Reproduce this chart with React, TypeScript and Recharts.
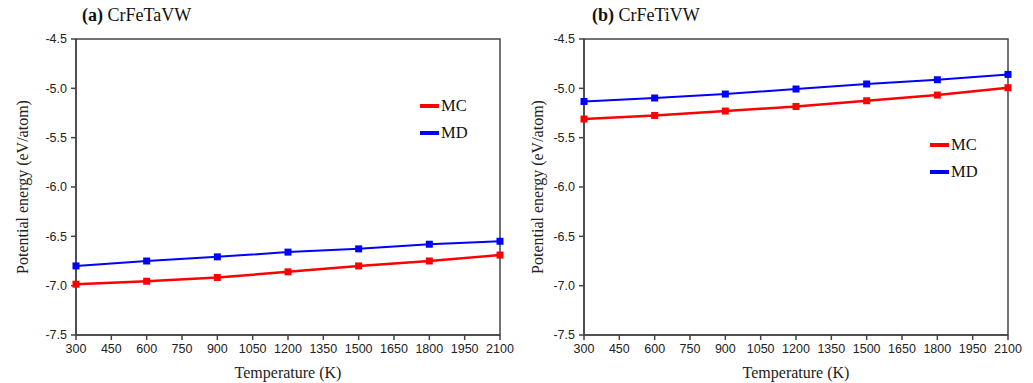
import React from 'react';
import {
  LineChart,
  Line,
  XAxis,
  YAxis,
  ReferenceArea,
} from 'recharts';

// temperatures (K)
const temps = [300, 600, 900, 1200, 1500, 1800, 2100];
const xTicks = [300, 450, 600, 750, 900, 1050, 1200, 1350, 1500, 1650, 1800, 1950, 2100];
const yTicks = [-7.5, -7.0, -6.5, -6.0, -5.5, -5.0, -4.5];

// (a) CrFeTaVW
const mcA = [-6.985, -6.955, -6.917, -6.86, -6.8, -6.75, -6.69];
const mdA = [-6.8, -6.75, -6.708, -6.66, -6.627, -6.58, -6.55];
// (b) CrFeTiVW
const mcB = [-5.311, -5.275, -5.23, -5.184, -5.126, -5.068, -4.994];
const mdB = [-5.133, -5.098, -5.058, -5.007, -4.956, -4.913, -4.859];

const SANS = '"Liberation Sans", Arial, sans-serif';
const SERIF = '"Liberation Serif", "Times New Roman", serif';
const AXIS = '#444';

const SquareDot = (props: any) => {
  const { cx, cy, fill } = props;
  if (cx == null || cy == null) return null;
  return <rect x={cx - 3.5} y={cy - 3.5} width={7} height={7} fill={fill} />;
};

const LegendBox = ({ left, top }: { left: number; top: number }) => (
  <div style={{ position: 'absolute', left, top, fontFamily: SERIF, fontSize: 16.5, color: '#111' }}>
    {[
      { name: 'MC', color: '#ff0000' },
      { name: 'MD', color: '#0000ff' },
    ].map((it) => (
      <div key={it.name} style={{ display: 'flex', alignItems: 'center', height: 27 }}>
        <span style={{ display: 'inline-block', width: 19, height: 4, background: it.color, marginRight: 2 }} />
        <span style={{ fontFamily: SERIF }}>{it.name}</span>
      </div>
    ))}
  </div>
);

interface PanelProps {
  letter: string;
  name: string;
  mc: number[];
  md: number[];
  left: number;
  width: number;
  plotLeft: number;
  marginRight: number;
  legendLeft: number;
  legendTop: number;
  titleLeft: number;
}

const Panel: React.FC<PanelProps> = (p) => {
  const data = temps.map((t, i) => ({ t, MC: p.mc[i], MD: p.md[i] }));
  return (
    <div style={{ position: 'absolute', left: p.left, top: 0, width: p.width, height: 383 }}>
      <div
        style={{
          position: 'absolute',
          left: p.titleLeft,
          top: 5,
          fontFamily: SERIF,
          fontSize: 18,
          color: '#111',
          whiteSpace: 'nowrap',
        }}
      >
        <b>{p.letter}</b> {p.name}
      </div>
      <LineChart
        width={p.width}
        height={383}
        data={data}
        margin={{ top: 39, right: p.marginRight, left: 0, bottom: 0 }}
      >
        <XAxis
          dataKey="t"
          type="number"
          domain={[300, 2100]}
          ticks={xTicks}
          interval={0}
          height={48}
          tickSize={5}
          tickMargin={4}
          stroke={AXIS}
          strokeWidth={1.5}
          tick={{ fill: '#222', fontSize: 12.5, fontFamily: SANS }}
          label={(lp: any) => {
            const vb = lp.viewBox || {};
            return (
              <text
                x={vb.x + vb.width / 2}
                y={vb.y + 43}
                textAnchor="middle"
                style={{ fontFamily: SERIF, fontSize: 16 }}
                fill="#222"
              >
                Temperature (K)
              </text>
            );
          }}
        />
        <YAxis
          type="number"
          domain={[-7.5, -4.5]}
          ticks={yTicks}
          interval={0}
          width={p.plotLeft}
          tickSize={5}
          tickMargin={4}
          stroke={AXIS}
          strokeWidth={1.5}
          tickFormatter={(v: number) => v.toFixed(1)}
          tick={{ fill: '#222', fontSize: 12.5, fontFamily: SANS }}
          label={(lp: any) => {
            const vb = lp.viewBox || {};
            const cy = vb.y + vb.height / 2;
            return (
              <text
                x={22}
                y={cy}
                transform={`rotate(-90 22 ${cy})`}
                textAnchor="middle"
                dominantBaseline="central"
                style={{ fontFamily: SERIF, fontSize: 16 }}
                fill="#222"
              >
                Potential energy (eV/atom)
              </text>
            );
          }}
        />
        <ReferenceArea
          x1={300}
          x2={2100}
          y1={-7.5}
          y2={-4.5}
          fill="none"
          stroke={AXIS}
          strokeWidth={1.5}
          fillOpacity={0}
        />
        <Line
          dataKey="MD"
          stroke="#0000ff"
          strokeWidth={2}
          dot={<SquareDot fill="#0000ff" />}
          activeDot={false}
          isAnimationActive={false}
        />
        <Line
          dataKey="MC"
          stroke="#ff0000"
          strokeWidth={2.5}
          dot={<SquareDot fill="#ff0000" />}
          activeDot={false}
          isAnimationActive={false}
        />
      </LineChart>
      <LegendBox left={p.legendLeft} top={p.legendTop} />
    </div>
  );
};

export default function App() {
  return (
    <div style={{ position: 'absolute', left: 0, top: 0, width: 1033, height: 383, background: '#fff' }}>
      <Panel
        letter="(a)"
        name="CrFeTaVW"
        mc={mcA}
        md={mdA}
        left={0}
        width={515}
        plotLeft={76}
        marginRight={15}
        legendLeft={420}
        legendTop={92}
        titleLeft={82}
      />
      <Panel
        letter="(b)"
        name="CrFeTiVW"
        mc={mcB}
        md={mdB}
        left={515}
        width={518}
        plotLeft={69}
        marginRight={25}
        legendLeft={415}
        legendTop={131}
        titleLeft={77}
      />
    </div>
  );
}
